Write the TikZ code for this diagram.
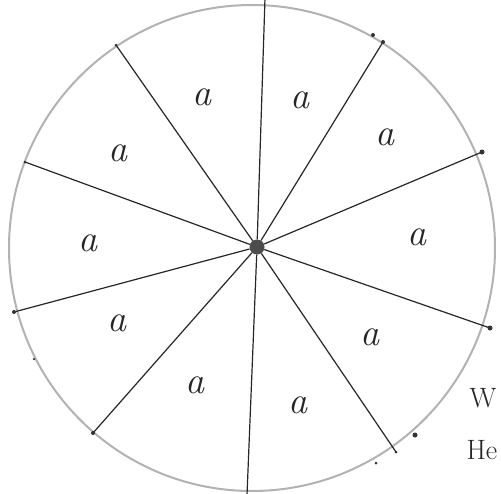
\documentclass[tikz,border=0pt]{standalone}
\begin{document}
\begin{tikzpicture}[x=1pt,y=-1pt,
  rim/.style={draw=black!30,line width=2pt},
  spoke/.style={draw=black!85,line width=1.2pt},
  hub/.style={circle,fill=black!70,inner sep=0pt,minimum size=15pt},
  lbl/.style={font=\fontsize{38}{38}\selectfont\itshape,text=black!85},
  pen/.style={circle,fill=black!80,inner sep=0pt,minimum size=#1},
  note/.style={font=\fontsize{28}{28}\selectfont,text=black!85,anchor=west}]
\useasboundingbox (0,0) rectangle (501,493);
\clip (0,0) rectangle (501,493);
\draw[rim] (252,248) circle (243);
\node[hub] (c) at (257,247) {};
\coordinate (e1) at (265,-2);
\coordinate (e2) at (383,42);
\coordinate (e3) at (482,152);
\coordinate (e4) at (490,328);
\coordinate (e5) at (396,452);
\coordinate (e6) at (247,495);
\coordinate (e7) at (93,433);
\coordinate (e8) at (14,312);
\coordinate (e9) at (25,162);
\coordinate (e10) at (116,45);
\foreach \i in {1,...,10} {\draw[spoke] (c) -- (e\i);}
\node[pen=4pt] (d2) at (e2) {};
\node[pen=5pt] (d3) at (e3) {};
\node[pen=5pt] (d4) at (e4) {};
\node[pen=3pt] (d5) at (e5) {};
\node[pen=4pt] (d7) at (e7) {};
\node[pen=4pt] (d8) at (e8) {};
\node[pen=3pt] (d9) at (e9) {};
\node[pen=3pt] (d10) at (e10) {};
\node[pen=4pt] (m1) at (373,35) {};
\node[pen=5pt] (m2) at (415,435) {};
\node[pen=3pt] (m3) at (376,463) {};
\node[pen=2.5pt] (m4) at (34,359) {};
\node[lbl] (a1) at (202,97) {a};
\node[lbl] (a2) at (300,100) {a};
\node[lbl] (a3) at (385,137) {a};
\node[lbl] (a4) at (417,237) {a};
\node[lbl] (a5) at (370,337) {a};
\node[lbl] (a6) at (298,405) {a};
\node[lbl] (a7) at (195,385) {a};
\node[lbl] (a8) at (117,323) {a};
\node[lbl] (a9) at (88,243) {a};
\node[lbl] (a10) at (118,153) {a};
\node[note,anchor=east] (w) at (500,398) {W};
\node[note] (he) at (463,450) {He};
\end{tikzpicture}
\end{document}
